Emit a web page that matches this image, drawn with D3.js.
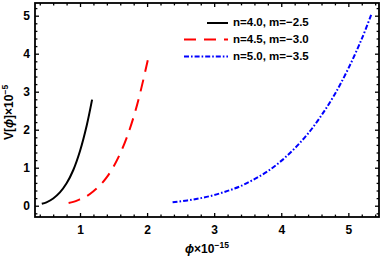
<!DOCTYPE html>
<html>
<head>
<meta charset="utf-8">
<script src="https://cdn.jsdelivr.net/npm/d3@7"></script>
<style>
  body { margin: 0; background: #fff; }
  text { font-family: "Liberation Sans", Arial, sans-serif; font-weight: bold; }
</style>
</head>
<body>
<svg id="chart" width="382" height="258"></svg>
<script>
// values (phi x 1e-15, V x 1e-5)
var phiA = [0.43, 0.5, 0.6, 0.7, 0.8, 0.9, 1.0, 1.1, 1.18];
var vA   = [0.05, 0.09, 0.19, 0.35, 0.59, 0.94, 1.44, 2.11, 2.79];
var phiB = [0.83, 0.9, 1.0, 1.1, 1.2, 1.3, 1.4, 1.5, 1.6, 1.7, 1.8, 1.9, 2.01];
var vB   = [0.07, 0.10, 0.17, 0.25, 0.38, 0.54, 0.75, 1.03, 1.38, 1.81, 2.34, 2.99, 3.83];
var phiC = [2.38, 2.6, 2.8, 3.0, 3.2, 3.4, 3.6, 3.8, 4.0, 4.2, 4.4, 4.6, 4.8, 5.0, 5.2, 5.34];
var vC   = [0.09, 0.14, 0.20, 0.28, 0.39, 0.52, 0.70, 0.91, 1.18, 1.51, 1.90, 2.38, 2.94, 3.61, 4.39, 5.02];
var seriesNames = ["n=4.0, m=\u22122.5", "n=4.5, m=\u22123.0", "n=5.0, m=\u22123.5"];
var xTicks = [1, 2, 3, 4, 5];
var yTicks = [0, 1, 2, 3, 4, 5];

var margin = { top: 3, right: 3, bottom: 41, left: 35 };
var width = 382 - margin.left - margin.right;
var height = 258 - margin.top - margin.bottom;

var svg = d3.select("#chart")
  .append("g")
  .attr("transform", "translate(" + margin.left + "," + margin.top + ")");

var x = d3.scaleLinear().domain([0.329, 5.457]).range([0, width]);
var y = d3.scaleLinear().domain([-0.297, 5.334]).range([height, 0]);

// minor ticks every 0.2
var xMinor = d3.range(0.4, 5.45, 0.2).filter(function (v) { return Math.abs(v - Math.round(v)) > 0.01; });
var yMinor = d3.range(-0.2, 5.3, 0.2).filter(function (v) { return Math.abs(v - Math.round(v)) > 0.01; });

function frameAxis(axisFn, scale, ticks, minor, size, labels, transform) {
  var g = svg.append("g").attr("transform", transform);
  g.call(axisFn(scale).tickValues(minor).tickSize(size * 0.6).tickFormat(""));
  g.call(function (gg) { gg.select(".domain").remove(); });
  var g2 = svg.append("g").attr("transform", transform);
  g2.call(axisFn(scale).tickValues(ticks).tickSize(size).tickFormat(labels ? d3.format("d") : ""));
  g2.select(".domain").remove();
  g2.selectAll("text").style("font-size", "12px").style("font-weight", "bold")
    .style("font-family", "'Liberation Sans', Arial, sans-serif").attr("fill", "#000");
  svg.selectAll(".tick line").attr("stroke", "#000").attr("stroke-width", 1.3);
  return g2;
}

// inward ticks: negative tick size
var bx = frameAxis(d3.axisBottom, x, xTicks, xMinor, -4, true, "translate(0," + height + ")");
bx.selectAll("text").attr("y", 8);
frameAxis(d3.axisTop, x, xTicks, xMinor, -4, false, "translate(0,0)");
var ly = frameAxis(d3.axisLeft, y, yTicks, yMinor, -4, true, "translate(0,0)");
ly.selectAll("text").attr("x", -5);
frameAxis(d3.axisRight, y, yTicks, yMinor, -4, false, "translate(" + width + ",0)");

svg.append("rect")
  .attr("width", width).attr("height", height)
  .attr("fill", "none").attr("stroke", "#000").attr("stroke-width", 1.8);

var line = d3.line()
  .x(function (d) { return x(d[0]); })
  .y(function (d) { return y(d[1]); })
  .curve(d3.curveCatmullRom);

var series = [
  { pts: d3.zip(phiA, vA), color: "#000", dash: null },
  { pts: d3.zip(phiB, vB), color: "#ff0000", dash: "12,8" },
  { pts: d3.zip(phiC, vC), color: "#0000ff", dash: "5,2,1.6,2" }
];

svg.append("g").selectAll("path")
  .data(series)
  .enter()
  .append("path")
  .attr("d", function (d) { return line(d.pts); })
  .attr("fill", "none")
  .attr("stroke", function (d) { return d.color; })
  .attr("stroke-width", 2)
  .attr("stroke-dasharray", function (d) { return d.dash; });

// legend
var legendY = [20, 36.5, 53.5];
series.forEach(function (s, i) {
  var x0 = i == 0 ? 172 : 149;
  svg.append("line")
    .attr("x1", x0).attr("x2", 193)
    .attr("y1", legendY[i]).attr("y2", legendY[i])
    .attr("stroke", s.color).attr("stroke-width", 2)
    .attr("stroke-dasharray", s.dash);
  svg.append("text")
    .attr("x", 198).attr("y", legendY[i])
    .attr("dominant-baseline", "middle")
    .style("font-size", "11.5px")
    .text(seriesNames[i]);
});

// axis labels
var xl = svg.append("text")
  .attr("x", 150).attr("y", 253 - margin.top)
  .style("font-size", "12px");
xl.append("tspan").style("font-style", "italic").text("\u03d5");
xl.append("tspan").text("\u00d710");
xl.append("tspan").attr("dy", -5).style("font-size", "8.5px").text("\u221215");

var yl = svg.append("text")
  .attr("transform", "translate(" + (13 - margin.left) + "," + (140 - margin.top) + ") rotate(-90)")
  .style("font-size", "12px");
yl.append("tspan").text("V[");
yl.append("tspan").style("font-style", "italic").text("\u03d5");
yl.append("tspan").text("]\u00d710");
yl.append("tspan").attr("dy", -5).style("font-size", "8.5px").text("\u22125");
</script>
</body>
</html>
